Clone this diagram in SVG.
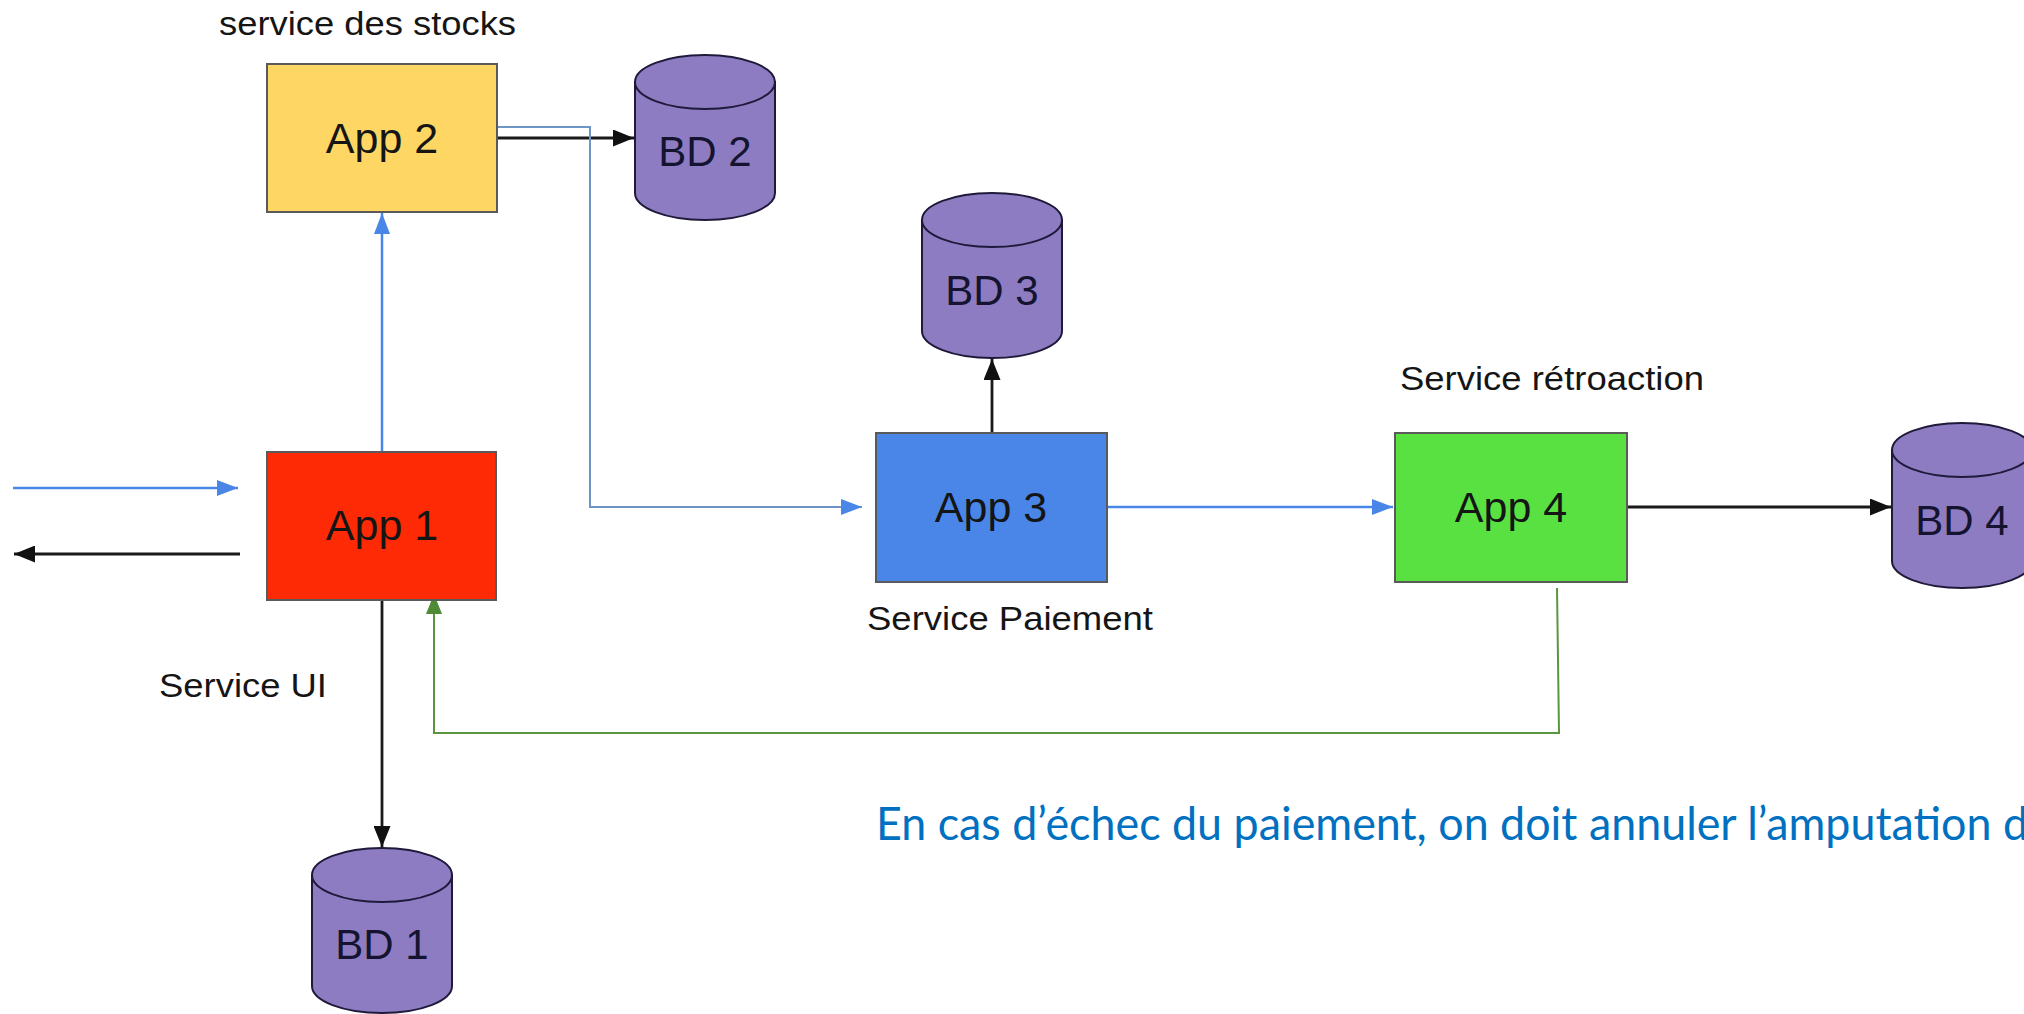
<svg xmlns="http://www.w3.org/2000/svg" width="2024" height="1014" viewBox="0 0 2024 1014">
  <style>
    .box { stroke: #5a5a5a; stroke-width: 2; }
    .db { fill: #8e7cc3; stroke: #1f1a3a; stroke-width: 2; }
    .lbl { font-family: "Liberation Sans", Arial, sans-serif; fill: #151515; }
    .app { font-size: 43px; text-anchor: middle; }
    .bd { font-size: 42px; text-anchor: middle; fill: #141430; }
    .svc { font-size: 34px; }
    .note { font-family: Lato, "Open Sans", sans-serif; font-size: 46px; fill: #0070c0; }
    .cb { fill: none; stroke: #4a86e8; stroke-width: 2.5; }
    .cbt { fill: none; stroke: #6f95c5; stroke-width: 2; }
    .ck { fill: none; stroke: #1a1a1a; stroke-width: 2.8; }
    .cg { fill: none; stroke: #5a9640; stroke-width: 2; }
  </style>
  <defs>
    <marker id="ab" markerUnits="userSpaceOnUse" markerWidth="21" markerHeight="16" refX="21" refY="8" orient="auto">
      <path d="M0,0 L21,8 L0,16 Z" fill="#4a86e8"/>
    </marker>
    <marker id="ak" markerUnits="userSpaceOnUse" markerWidth="21" markerHeight="17" refX="21" refY="8.5" orient="auto">
      <path d="M0,0 L21,8.5 L0,17 Z" fill="#111"/>
    </marker>
    <marker id="ag" markerUnits="userSpaceOnUse" markerWidth="20" markerHeight="16" refX="20" refY="8" orient="auto">
      <path d="M0,0 L20,8 L0,16 Z" fill="#4f8a34"/>
    </marker>
  </defs>
  <rect width="2024" height="1014" fill="#ffffff"/>

  <g id="connectors">
    <path class="cb" d="M13,488 H238" marker-end="url(#ab)"/>
    <path class="ck" d="M240,554 H14" marker-end="url(#ak)"/>
    <path class="cb" d="M382,452 V213" marker-end="url(#ab)"/>
    <path class="ck" d="M497,138 H634" marker-end="url(#ak)"/>
    <path class="cbt" d="M498,127 H590 V507 H862" marker-end="url(#ab)"/>
    <path class="ck" d="M992,433 V359" marker-end="url(#ak)"/>
    <path class="cb" d="M1107,507 H1393" marker-end="url(#ab)"/>
    <path class="ck" d="M1627,507 H1891" marker-end="url(#ak)"/>
    <path class="cg" d="M1557,588 L1559,733 H434 V594" marker-end="url(#ag)"/>
    <path class="ck" d="M382,600 V847" marker-end="url(#ak)"/>
  </g>

  <g id="app2">
    <rect class="box" x="267" y="64" width="230" height="148" fill="#fdd663"/>
    <text class="lbl app" x="382" y="153">App 2</text>
  </g>
  <g id="app1">
    <rect class="box" x="267" y="452" width="229" height="148" fill="#fe2a05"/>
    <text class="lbl app" x="382" y="540">App 1</text>
  </g>
  <g id="app3">
    <rect class="box" x="876" y="433" width="231" height="149" fill="#4a86e8"/>
    <text class="lbl app" x="991" y="522">App 3</text>
  </g>
  <g id="app4">
    <rect class="box" x="1395" y="433" width="232" height="149" fill="#59e142"/>
    <text class="lbl app" x="1511" y="522">App 4</text>
  </g>

  <g id="bd1">
    <path class="db" d="M312,875 V986 A70,27 0 0 0 452,986 V875 Z"/>
    <ellipse class="db" cx="382" cy="875" rx="70" ry="27"/>
    <text class="lbl bd" x="382" y="959">BD 1</text>
  </g>
  <g id="bd2">
    <path class="db" d="M635,82 V193 A70,27 0 0 0 775,193 V82 Z"/>
    <ellipse class="db" cx="705" cy="82" rx="70" ry="27"/>
    <text class="lbl bd" x="705" y="166">BD 2</text>
  </g>
  <g id="bd3">
    <path class="db" d="M922,220 V331 A70,27 0 0 0 1062,331 V220 Z"/>
    <ellipse class="db" cx="992" cy="220" rx="70" ry="27"/>
    <text class="lbl bd" x="992" y="305">BD 3</text>
  </g>
  <g id="bd4">
    <path class="db" d="M1892,450 V561 A70,27 0 0 0 2032,561 V450 Z"/>
    <ellipse class="db" cx="1962" cy="450" rx="70" ry="27"/>
    <text class="lbl bd" x="1962" y="535">BD 4</text>
  </g>

  <g id="labels">
    <text class="lbl svc" x="219" y="35" textLength="297" lengthAdjust="spacingAndGlyphs">service des stocks</text>
    <text class="lbl svc" x="159" y="697" textLength="168" lengthAdjust="spacingAndGlyphs">Service UI</text>
    <text class="lbl svc" x="867" y="630" textLength="286" lengthAdjust="spacingAndGlyphs">Service Paiement</text>
    <text class="lbl svc" x="1400" y="390" textLength="304" lengthAdjust="spacingAndGlyphs">Service rétroaction</text>
    <text class="note" x="876" y="840" textLength="1152" lengthAdjust="spacingAndGlyphs">En cas d’échec du paiement, on doit annuler l’amputation d</text>
  </g>
</svg>
